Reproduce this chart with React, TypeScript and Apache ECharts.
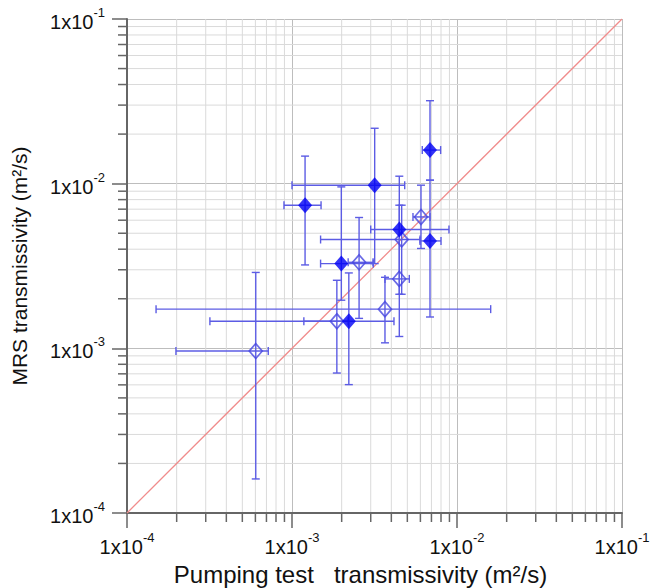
import React, { useEffect, useRef } from "react";
import * as echarts from "echarts";

// [x, y, xLow, xHigh, yLow, yHigh]  (m²/s)
const filledPoints: number[][] = [
  [6.86e-3, 1.6e-2, 6.16e-3, 7.96e-3, 1.05e-2, 3.19e-2],
  [1.2e-3, 7.4e-3, 8.94e-4, 1.5e-3, 3.21e-3, 1.47e-2],
  [3.17e-3, 9.79e-3, 1.0e-3, 4.82e-3, 3.27e-3, 2.17e-2],
  [4.47e-3, 5.27e-3, 3.0e-3, 8.94e-3, 2.13e-3, 1.11e-2],
  [6.86e-3, 4.49e-3, 5.97e-3, 8.0e-3, 1.55e-3, 1.05e-2],
  [1.99e-3, 3.27e-3, 1.49e-3, 3.11e-3, 1.96e-3, 9.56e-3],
  [2.21e-3, 1.46e-3, 1.18e-3, 4.15e-3, 6.02e-4, 2.87e-3],
];

const hollowPoints: number[][] = [
  [6.05e-3, 6.28e-3, 5.41e-3, 6.86e-3, 4.04e-3, 9.79e-3],
  [4.62e-3, 4.58e-3, 1.49e-3, 5.97e-3, 2.13e-3, 7.4e-3],
  [2.55e-3, 3.33e-3, 2.19e-3, 3.1e-3, 1.52e-3, 6.23e-3],
  [4.47e-3, 2.64e-3, 3.66e-3, 5.14e-3, 1.18e-3, 7.4e-3],
  [3.66e-3, 1.73e-3, 1.5e-4, 1.6e-2, 1.08e-3, 2.7e-3],
  [1.87e-3, 1.46e-3, 3.18e-4, 2.19e-3, 7.08e-4, 2.59e-3],
  [6.03e-4, 9.63e-4, 1.98e-4, 7.18e-4, 1.61e-4, 2.89e-3],
];

const oneToOne: number[][] = [
  [1e-4, 1e-4],
  [1e-1, 1e-1],
];

const axisMin = 1e-4;
const axisMax = 1e-1;
const decades = [1e-4, 1e-3, 1e-2];
const minorMultipliers = [2, 3, 4, 5, 6, 7, 8, 9];

const xTitle = "Pumping test\u00a0\u00a0 transmissivity (m²/s)";
const yTitle = "MRS transmissivity (m²/s)";

const FONT = "'Liberation Sans', Arial, Helvetica, sans-serif";
const BAR_COLOR = "#5c5ce4";

export default function App() {
  const ref = useRef<HTMLDivElement>(null);

  useEffect(() => {
    if (!ref.current) return;
    const chart = echarts.init(ref.current, undefined, { renderer: "svg" });

    const minorValues: number[] = [];
    decades.forEach((d) => minorMultipliers.forEach((m) => minorValues.push(d * m)));

    const labelFmt = (v: number) => {
      const e = Math.round(Math.log10(v));
      return `{a|1x10}{b|${e}}`;
    };
    const rich = {
      a: { fontSize: 20, fontFamily: FONT, color: "#111", lineHeight: 26, verticalAlign: "bottom" as const },
      b: { fontSize: 13, fontFamily: FONT, color: "#111", lineHeight: 26, verticalAlign: "top" as const, padding: [0, 0, 8, 0] },
    };

    const errorRender = (color: string) => (params: any, api: any) => {
      const x = api.value(0), y = api.value(1);
      const c = api.coord([x, y]);
      const pxl = api.coord([api.value(2), y]);
      const pxh = api.coord([api.value(3), y]);
      const pyl = api.coord([x, api.value(4)]);
      const pyh = api.coord([x, api.value(5)]);
      const cap = 4;
      const style = { stroke: color, lineWidth: 1.4, fill: "none" };
      return {
        type: "group",
        children: [
          { type: "line", shape: { x1: pxl[0], y1: c[1], x2: pxh[0], y2: c[1] }, style },
          { type: "line", shape: { x1: c[0], y1: pyh[1], x2: c[0], y2: pyl[1] }, style },
          { type: "line", shape: { x1: pxl[0], y1: c[1] - cap, x2: pxl[0], y2: c[1] + cap }, style },
          { type: "line", shape: { x1: pxh[0], y1: c[1] - cap, x2: pxh[0], y2: c[1] + cap }, style },
          { type: "line", shape: { x1: c[0] - cap, y1: pyl[1], x2: c[0] + cap, y2: pyl[1] }, style },
          { type: "line", shape: { x1: c[0] - cap, y1: pyh[1], x2: c[0] + cap, y2: pyh[1] }, style },
        ],
      };
    };

    const option: any = {
      animation: false,
      backgroundColor: "#fff",
      grid: { left: 127, right: 29, top: 19, bottom: 75, containLabel: false, outerBoundsMode: "none" },
      xAxis: {
        type: "log",
        logBase: 10,
        min: axisMin,
        max: axisMax,
        name: xTitle,
        nameLocation: "middle",
        nameGap: 46,
        nameTextStyle: { fontSize: 24, lineHeight: 26, fontFamily: FONT, color: "#111", padding: [0, 28, 0, 0] },
        axisLine: { show: true, onZero: false, lineStyle: { color: "#666", width: 2 } },
        axisTick: { show: true, inside: false, length: 15, lineStyle: { color: "#666", width: 1.5 } },
        axisLabel: { formatter: labelFmt, rich, fontSize: 20, margin: 18, showMaxLabel: true, showMinLabel: true },
        splitLine: { show: true, lineStyle: { color: "#bdbdbd", width: 1 } },
      },
      yAxis: {
        type: "log",
        logBase: 10,
        min: axisMin,
        max: axisMax,
        name: yTitle,
        nameLocation: "middle",
        nameGap: 97,
        nameRotate: 90,
        nameTextStyle: { fontSize: 21, fontFamily: FONT, color: "#111" },
        axisLine: { show: true, onZero: false, lineStyle: { color: "#666", width: 2 } },
        axisTick: { show: true, inside: false, length: 15, lineStyle: { color: "#666", width: 1.5 } },
        axisLabel: { formatter: labelFmt, rich, fontSize: 20, margin: 22, showMaxLabel: true, showMinLabel: true },
        splitLine: { show: true, lineStyle: { color: "#bdbdbd", width: 1 } },
      },
      series: [
        {
          type: "custom",
          name: "minorX",
          silent: true,
          z: 0,
          clip: false,
          data: minorValues.map((v) => [v, 1e-2]),
          encode: { x: 0, y: 1 },
          renderItem: (params: any, api: any) => {
            const p = api.coord([api.value(0), api.value(1)]);
            const cs = params.coordSys;
            return {
              type: "group",
              children: [
                { type: "line", shape: { x1: p[0], y1: cs.y, x2: p[0], y2: cs.y + cs.height }, style: { stroke: "#dadada", lineWidth: 1 } },
                { type: "line", shape: { x1: p[0], y1: cs.y + cs.height, x2: p[0], y2: cs.y + cs.height + 9 }, style: { stroke: "#666", lineWidth: 1.5 } },
              ],
            };
          },
        },
        {
          type: "custom",
          name: "minorY",
          silent: true,
          z: 0,
          clip: false,
          data: minorValues.map((v) => [1e-2, v]),
          encode: { x: 0, y: 1 },
          renderItem: (params: any, api: any) => {
            const p = api.coord([api.value(0), api.value(1)]);
            const cs = params.coordSys;
            return {
              type: "group",
              children: [
                { type: "line", shape: { x1: cs.x, y1: p[1], x2: cs.x + cs.width, y2: p[1] }, style: { stroke: "#dadada", lineWidth: 1 } },
                { type: "line", shape: { x1: cs.x - 9, y1: p[1], x2: cs.x, y2: p[1] }, style: { stroke: "#666", lineWidth: 1.5 } },
              ],
            };
          },
        },
        {
          type: "line",
          name: "1:1",
          data: oneToOne,
          symbol: "none",
          z: 1,
          lineStyle: { color: "#f08c8c", width: 1.3 },
        },
        {
          type: "custom",
          name: "errFilled",
          z: 2,
          data: filledPoints,
          encode: { x: [0, 2, 3], y: [1, 4, 5] },
          renderItem: errorRender(BAR_COLOR),
        },
        {
          type: "custom",
          name: "errHollow",
          z: 2,
          data: hollowPoints,
          encode: { x: [0, 2, 3], y: [1, 4, 5] },
          renderItem: errorRender(BAR_COLOR),
        },
        {
          type: "scatter",
          name: "hollow",
          z: 3,
          data: hollowPoints.map((p) => [p[0], p[1]]),
          symbol: "diamond",
          symbolSize: [13, 15],
          itemStyle: { color: "rgba(255,255,255,0)", borderColor: "#4646e0", borderWidth: 1.7 },
        },
        {
          type: "scatter",
          name: "filled",
          z: 4,
          data: filledPoints.map((p) => [p[0], p[1]]),
          symbol: "diamond",
          symbolSize: [14, 16],
          itemStyle: { color: "#0000f5" },
        },
      ],
    };

    chart.setOption(option);
    return () => chart.dispose();
  }, []);

  return (
    <div
      ref={ref}
      style={{ position: "fixed", left: 0, top: 0, width: 651, height: 588, background: "#fff" }}
    />
  );
}
